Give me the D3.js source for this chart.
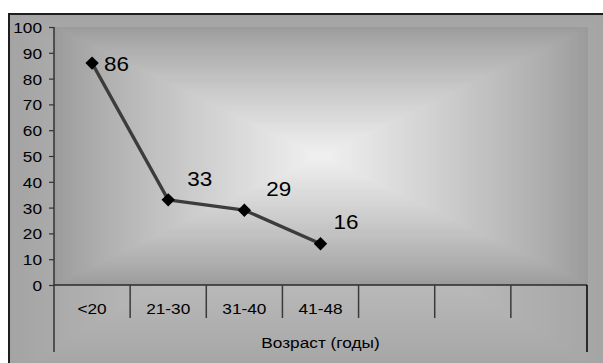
<!DOCTYPE html>
<html><head><meta charset="utf-8">
<script src="https://cdn.jsdelivr.net/npm/d3@7"></script>
<style>body{margin:0;background:#fff}svg{display:block}</style>
</head><body><svg id="c" width="603" height="363"></svg>
<script>
// ---- data ----
const categories = ["<20", "21-30", "31-40", "41-48", "", "", ""];
const values = [86, 33, 29, 16];
const yTicks = [0, 10, 20, 30, 40, 50, 60, 70, 80, 90, 100];
const xTitle = "Возраст (годы)";

// ---- layout ----
const svg = d3.select("#c");
const plot = {left: 54, right: 587, top: 27, bottom: 285};
const tableBottom = 352;
const font = "'Liberation Sans', Arial, sans-serif";

function boxGradient(g, x0, y0, w, h, edge, center, n, gamma) {
  const cx = x0 + w / 2, cy = y0 + h / 2;
  const col = d3.interpolateRgb(edge, center);
  for (let i = 0; i < n; i++) {
    const t = 1 - i / n;
    g.append("rect")
      .attr("x", cx - w * t / 2).attr("y", cy - h * t / 2)
      .attr("width", w * t).attr("height", h * t)
      .attr("fill", col(Math.pow(i / n, gamma)));
  }
}

// chart area background
const bg = svg.append("g");
boxGradient(bg, 9, 14, 600, 360, "#a4a4a4", "#cfcfcf", 60, 1);
// plot area background
const pg = svg.append("g");
boxGradient(pg, plot.left, plot.top, 534, plot.bottom - plot.top, "#9b9b9b", "#f1f1f1", 90, 0.85);

// outer border
svg.append("rect").attr("x", 9).attr("y", 14).attr("width", 600).attr("height", 360)
  .attr("fill", "none").attr("stroke", "#1e1e1e").attr("stroke-width", 2);

// scales
const x = d3.scaleBand().domain(d3.range(categories.length)).range([plot.left, plot.right]).padding(0);
const y = d3.scaleLinear().domain([0, 100]).range([plot.bottom, plot.top]);

function stretchedText(g, tx, ty, str, size, sx, anchor) {
  return g.append("text")
    .attr("transform", `translate(${tx},${ty}) scale(${sx},1)`)
    .attr("text-anchor", anchor || "middle")
    .attr("font-family", font).attr("font-size", size).attr("fill", "#000")
    .text(str);
}

// y axis
const yAxis = d3.axisLeft(y).tickValues(yTicks).tickSize(5).tickSizeOuter(0).tickPadding(7);
const ya = svg.append("g").attr("transform", `translate(${plot.left},0)`).call(yAxis);
ya.select(".domain").remove();
ya.selectAll(".tick line").attr("stroke", "#333").attr("stroke-width", 1.2);
ya.selectAll(".tick text").each(function(d) {
  const t = d3.select(this);
  t.attr("font-family", font).attr("font-size", 15).attr("fill", "#000")
   .attr("x", null).attr("dy", "0.36em")
   .attr("transform", `translate(-12,0) scale(1.15,1)`);
});
// y axis line extended down through the category table
svg.append("line").attr("x1", plot.left).attr("x2", plot.left)
  .attr("y1", plot.top).attr("y2", tableBottom)
  .attr("stroke", "#333").attr("stroke-width", 1.5);

// x axis line
svg.append("line").attr("x1", plot.left).attr("x2", plot.right)
  .attr("y1", plot.bottom).attr("y2", plot.bottom)
  .attr("stroke", "#2a2a2a").attr("stroke-width", 1.5);

// category separators
categories.forEach((c, i) => {
  const xx = x(i) + x.bandwidth();
  const last = i === categories.length - 1;
  svg.append("line").attr("x1", xx).attr("x2", xx)
    .attr("y1", plot.bottom).attr("y2", last ? tableBottom : 318)
    .attr("stroke", last ? "#000" : "#3a3a3a").attr("stroke-width", 1.5);
});

// category labels
const cg = svg.append("g");
categories.forEach((c, i) => {
  if (c) stretchedText(cg, x(i) + x.bandwidth() / 2, 314, c, 15, 1.15, "middle");
});
// axis title
stretchedText(svg, (plot.left + plot.right) / 2, 348, xTitle, 15, 1.15, "middle");

// line
const px = (d, i) => x(i) + x.bandwidth() / 2;
const line = d3.line().x(px).y(d => y(d));
svg.append("path").datum(values).attr("d", line)
  .attr("fill", "none").attr("stroke", "#3c3c3c").attr("stroke-width", 3.3)
  .attr("stroke-linejoin", "round");

// markers
const sym = d3.symbol().type(d3.symbolSquare).size(90);
svg.selectAll(".mk").data(values).join("path")
  .attr("transform", (d, i) => `translate(${px(d, i)},${y(d)}) rotate(45)`)
  .attr("d", sym).attr("fill", "#000");

// data labels (first placed right of point, others above-right)
const labelDx = [12, 19, 22, 13];
const labelDy = [8, -14, -14, -15];
values.forEach((v, i) => {
  stretchedText(svg, px(v, i) + labelDx[i], y(v) + labelDy[i], String(v), 21, 1.07, "start");
});
</script>
</body></html>
